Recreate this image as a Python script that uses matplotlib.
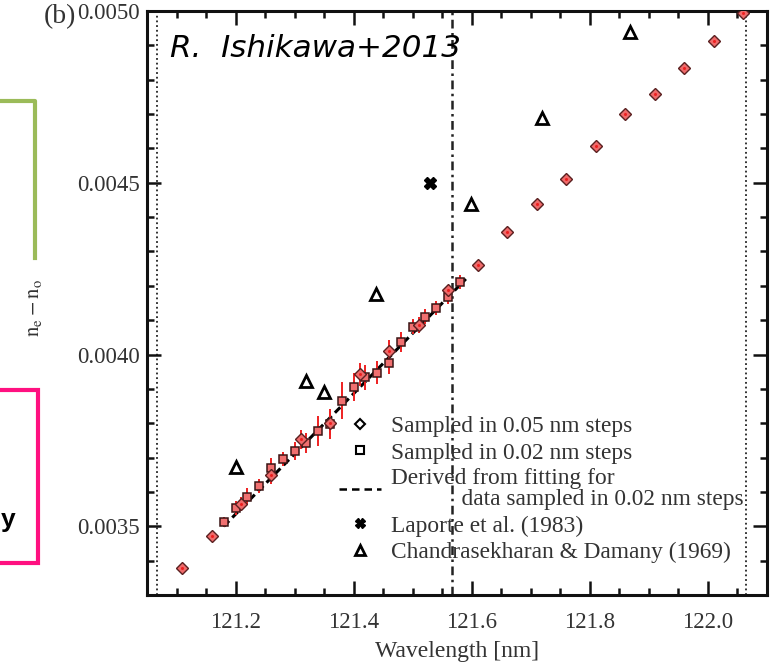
import matplotlib
matplotlib.use('Agg')
import matplotlib.pyplot as plt
from matplotlib.lines import Line2D
from matplotlib.patches import Rectangle
from matplotlib.ticker import MultipleLocator, FormatStrFormatter

# sampled in 0.05 nm steps (diamonds)
wl_05 = [121.11, 121.16, 121.21, 121.26, 121.31, 121.36, 121.41, 121.46, 121.51, 121.56,
         121.61, 121.66, 121.71, 121.76, 121.81, 121.86, 121.91, 121.96, 122.01, 122.06]
dn_05 = [0.003379, 0.003473, 0.003565, 0.003649, 0.003753, 0.003800, 0.003942, 0.004011, 0.004086, 0.004188,
         0.004261, 0.004356, 0.004437, 0.004510, 0.004608, 0.004700, 0.004758, 0.004833, 0.004914, 0.004993]
err_05 = [0.000010, 0.000012, 0.000020, 0.000025, 0.000027, 0.000035, 0.000034, 0.000030, 0.000022, 0.000015,
          0.000012, 0.000012, 0.000012, 0.000012, 0.000012, 0.000012, 0.000012, 0.000012, 0.000012, 0.000012]

# sampled in 0.02 nm steps (squares)
wl_02 = [121.18, 121.20, 121.22, 121.24, 121.26, 121.28, 121.30, 121.32, 121.34, 121.36, 121.38,
         121.40, 121.42, 121.44, 121.46, 121.48, 121.50, 121.52, 121.54, 121.56, 121.58]
dn_02 = [0.003513, 0.003554, 0.003586, 0.003617, 0.003669, 0.003695, 0.003719, 0.003742, 0.003777, 0.003798, 0.003866,
         0.003906, 0.003934, 0.003947, 0.003976, 0.004037, 0.004081, 0.004110, 0.004135, 0.004168, 0.004212]
err_02 = [0.000015, 0.000020, 0.000025, 0.000020, 0.000030, 0.000020, 0.000025, 0.000030, 0.000044, 0.000044, 0.000055,
          0.000040, 0.000036, 0.000034, 0.000034, 0.000030, 0.000022, 0.000022, 0.000020, 0.000020, 0.000020]

# fit to the 0.02 nm data
fit_wl = [121.18, 121.59]
fit_dn = [0.003500, 0.004220]

# Laporte et al. (1983)
lap_wl = [121.530]
lap_dn = [0.004500]

# Chandrasekharan & Damany (1969)
cd_wl = [121.200, 121.320, 121.350, 121.438, 121.598, 121.719, 121.868]
cd_dn = [0.003674, 0.003923, 0.003892, 0.004175, 0.004438, 0.004688, 0.004938]

LYA = 121.566
RANGE_LO, RANGE_HI = 121.067, 122.065

plt.rcParams['font.family'] = 'serif'
plt.rcParams['font.serif'] = ['Liberation Serif', 'DejaVu Serif']
plt.rcParams['mathtext.fontset'] = 'stix'

W, H = 771, 664
fig = plt.figure(figsize=(W / 100, H / 100), dpi=100)
ax = fig.add_axes([147 / W, 1 - 595 / H, 620 / W, 584 / H])

red = '#ee2020'
ax.axvline(RANGE_LO, color='#222222', lw=1.3, ls=(0, (1, 1.6)), zorder=1)
ax.axvline(RANGE_HI, color='#222222', lw=1.3, ls=(0, (1, 1.6)), zorder=1)
ax.axvline(LYA, color='#222222', lw=1.8, ls=(0, (3.5, 1.8, 1, 1.8)), zorder=1)

ax.plot(fit_wl, fit_dn, color='black', lw=2.2, ls=(0, (2.5, 1.5)), zorder=2)

ax.errorbar(wl_02, dn_02, yerr=err_02, xerr=0.005, fmt='none', ecolor=red, elinewidth=1.4, zorder=3)
ax.errorbar(wl_05, dn_05, yerr=err_05, xerr=0.006, fmt='none', ecolor=red, elinewidth=1.4, zorder=3)
ax.plot(wl_02, dn_02, ls='none', marker='s', ms=6, mfc='#f07070', mec='#3a1515', mew=1.1, zorder=4)
ax.plot(wl_05, dn_05, ls='none', marker='D', ms=6.5, mfc='#ee6a6a', mec='#5a2020', mew=1.0, zorder=5)
ax.plot(wl_05, dn_05, ls='none', marker='o', ms=2.2, mfc=red, mec='none', zorder=6)

ax.plot(lap_wl, lap_dn, ls='none', marker='X', ms=8, mfc='black', mec='black', zorder=5)
ax.plot(cd_wl, cd_dn, ls='none', marker='^', ms=8, mfc='white', mec='black', mew=2, zorder=5)

ax.set_xlim(121.05, 122.1)
ax.set_ylim(0.0033, 0.0050)
ax.xaxis.set_major_locator(MultipleLocator(0.2))
ax.xaxis.set_minor_locator(MultipleLocator(0.05))
ax.yaxis.set_major_locator(MultipleLocator(0.0005))
ax.yaxis.set_minor_locator(MultipleLocator(0.0001))
ax.xaxis.set_major_formatter(FormatStrFormatter('%.1f'))
ax.yaxis.set_major_formatter(FormatStrFormatter('%.4f'))
ax.tick_params(which='both', direction='in', top=True, right=True, width=1.8, colors='#111111',
               labelcolor='#333333', labelsize=16.5)
ax.tick_params(which='major', length=10)
ax.tick_params(which='minor', length=5)
ax.tick_params(axis='x', pad=12)
ax.tick_params(axis='y', pad=5)
for s in ax.spines.values():
    s.set_linewidth(2.2)
    s.set_color('#111111')

ax.set_xlabel('Wavelength [nm]', fontsize=17, color='#333333', labelpad=6)

handles = [
    Line2D([], [], ls='none', marker='D', ms=5.5, mfc='white', mec='black', mew=1.5),
    Line2D([], [], ls='none', marker='s', ms=5.5, mfc='white', mec='black', mew=1.5),
    Line2D([], [], color='black', lw=1.8, ls=(0, (3, 2))),
    Line2D([], [], ls='none', marker='X', ms=7, mfc='black', mec='black'),
    Line2D([], [], ls='none', marker='^', ms=7, mfc='white', mec='black', mew=2),
]
labels = [
    'Sampled in 0.05 nm steps',
    'Sampled in 0.02 nm steps',
    'Derived from fitting for\n            data sampled in 0.02 nm steps',
    'Laporte et al. (1983)',
    'Chandrasekharan & Damany (1969)',
]
leg = ax.legend(handles, labels, loc='lower right', bbox_to_anchor=(0.988, 0.027), frameon=False,
                fontsize=16.8, handlelength=1.8, handletextpad=0.4, labelspacing=0.21,
                borderpad=0.2, labelcolor='#333333')
for t in leg.get_texts():
    t.set_linespacing(1.0)

ax.text(0.037, 0.935, 'R.  Ishikawa+2013', transform=ax.transAxes, fontsize=22.3,
        family='DejaVu Sans', style='italic', color='black', va='center', ha='left')

# panel label and y axis label
fig.text(76 / W, 1 - 17 / H, '(b)', fontsize=20, color='#333333', ha='right', va='center')
fig.text(35 / W, 1 - 308 / H, r'$\mathrm{n_e - n_o}$', fontsize=15, color='#333333',
         rotation=90, ha='center', va='center')

# slide decorations on the left
fig.add_artist(Line2D([0, 35 / W, 35 / W], [1 - 101 / H, 1 - 101 / H, 1 - 258 / H],
                      transform=fig.transFigure, color='#9bbb59', lw=3))
fig.add_artist(Rectangle((-0.01, 1 - 563 / H), 38 / W + 0.01, 173 / H, transform=fig.transFigure,
                         fill=False, edgecolor='#ff1080', lw=3))
fig.text(1 / W, 1 - 520 / H, 'y', fontsize=19, family='Liberation Sans', weight='bold',
         color='black', ha='left', va='center')

fig.savefig('out.png', dpi=100)
